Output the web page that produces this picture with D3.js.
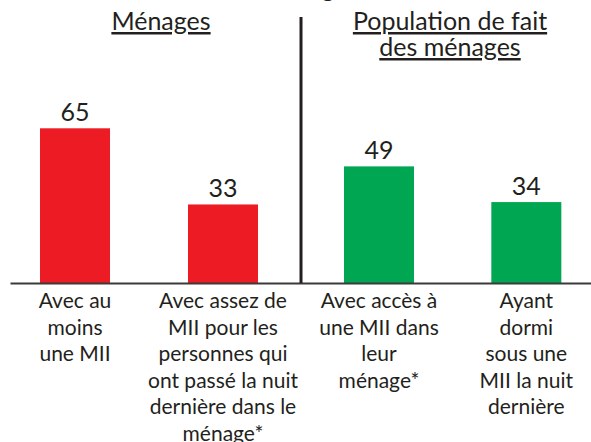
<!DOCTYPE html>
<html><head><meta charset="utf-8">
<script src="https://cdn.jsdelivr.net/npm/d3@7"></script>
<style>body{margin:0;background:#fff}svg{display:block}text{font-family:Lato,"Open Sans",sans-serif;fill:#231F20}</style>
</head><body>
<svg id="c" width="591" height="442"></svg>
<script>
const panels = ["Ménages", "Population de fait des ménages"];
const panelTitleLines = [["Ménages"], ["Population de fait", "des ménages"]];
const categories = ["c1", "c2", "c3", "c4"];
const categoryPanel = [0, 0, 1, 1];
const categoryLabels = [
  ["Avec au", "moins", "une MII"],
  ["Avec assez de", "MII pour les", "personnes qui", "ont passé la nuit", "dernière dans le", "ménage*"],
  ["Avec accès à", "une MII dans", "leur", "ménage*"],
  ["Ayant", "dormi", "sous une", "MII la nuit", "dernière"]
];
const values = [65, 33, 49, 34];
const colors = ["#ED1C24", "#00A651"];
const title = "Pourcentage";

const svg = d3.select("#c");
const base = 283;
const y = d3.scaleLinear().domain([0, 100]).range([base, 45]);
const panelX = d3.scaleOrdinal().domain([0, 1]).range([[40, 258], [344, 561]]);
const xs = [0, 1].map(p => d3.scaleBand()
  .domain(categories.filter((c, i) => categoryPanel[i] === p))
  .range(panelX(p)).paddingInner(0.527).paddingOuter(0));
const xOf = i => xs[categoryPanel[i]](categories[i]);
const bw = xs[0].bandwidth();

// clipped title (only descender visible)
svg.append("text").attr("x", 281).attr("y", -3).attr("text-anchor", "middle")
  .style("font-size", "24px").text(title);

// bars
svg.selectAll("rect.bar").data(values).join("rect").attr("class", "bar")
  .attr("x", (d, i) => xOf(i)).attr("width", bw)
  .attr("y", d => y(d)).attr("height", d => base - y(d))
  .attr("fill", (d, i) => colors[categoryPanel[i]]);

// value labels
svg.selectAll("text.val").data(values).join("text").attr("class", "val")
  .attr("x", (d, i) => xOf(i) + bw / 2).attr("y", d => y(d) - 7)
  .attr("text-anchor", "middle").style("font-size", "25px").text(d => d);

// baseline axis
const axisScale = d3.scaleLinear().domain([0, 1]).range([10, 591]);
svg.append("g").attr("transform", `translate(0,${base})`)
  .call(d3.axisBottom(axisScale).ticks(0).tickSize(0).tickFormat(""))
  .call(g => g.select(".domain").attr("stroke", "#3a3a3a").attr("stroke-width", 2));

// divider
svg.append("line").attr("x1", 301).attr("x2", 301).attr("y1", 17).attr("y2", base)
  .attr("stroke", "#231F20").attr("stroke-width", 3);

// panel titles
const titleCenters = [161, 450];
panelTitleLines.forEach((lines, p) => {
  const t = svg.append("text").attr("text-anchor", "middle")
    .attr("x", titleCenters[p]).attr("y", 30)
    .style("font-size", "25px").style("text-decoration", "underline");
  lines.forEach((l, k) => t.append("tspan").attr("x", titleCenters[p])
    .attr("dy", k === 0 ? 0 : 26).text(l));
});

// category labels
categoryLabels.forEach((lines, i) => {
  const cx = xOf(i) + bw / 2;
  const t = svg.append("text").attr("text-anchor", "middle")
    .attr("x", cx).attr("y", 308).style("font-size", "21px");
  lines.forEach((l, k) => t.append("tspan").attr("x", cx)
    .attr("dy", k === 0 ? 0 : 26.5).text(l));
});
</script>
</body></html>
